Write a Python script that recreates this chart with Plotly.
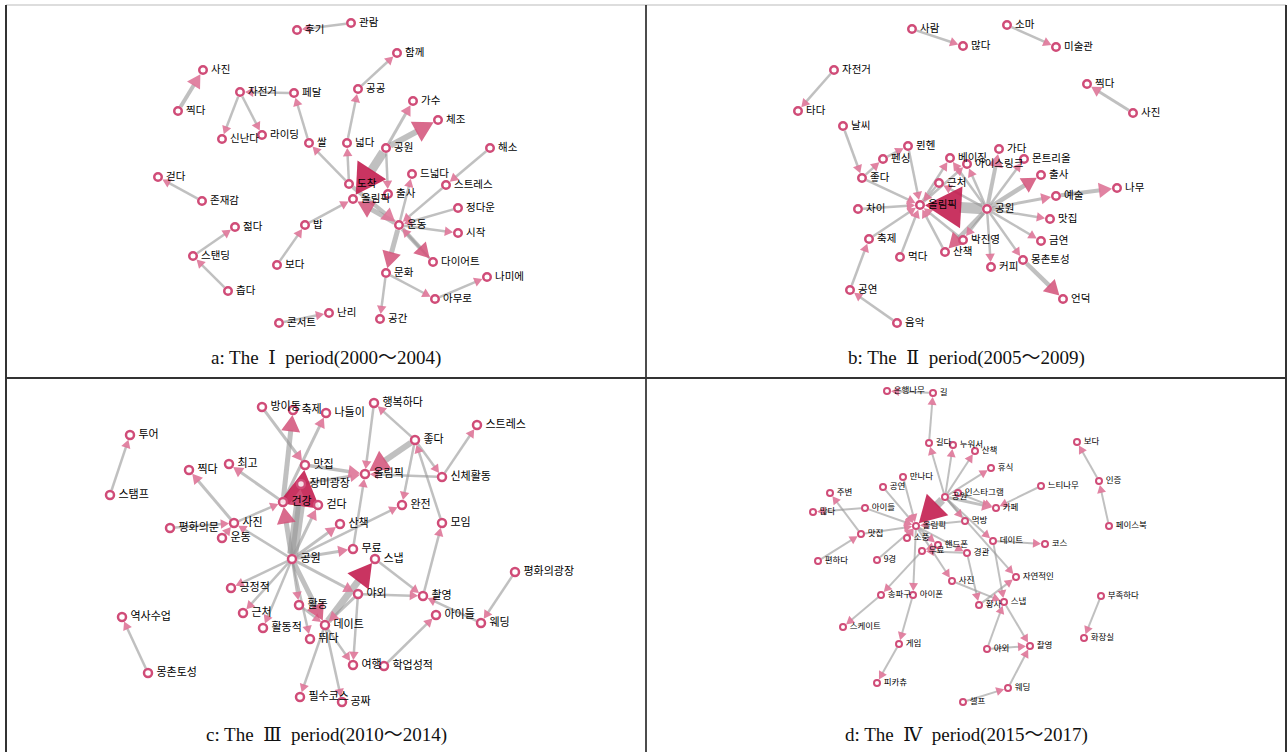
import math
import plotly.graph_objects as go

# ---------------- Panel a : 2000~2004 ----------------
A_NAMES = ["관람","후기","함께","사진","자전거","페달","공공","가수","체조","찍다","신난다","라이딩","쌀","넓다",
           "공원","해소","걷다","도착","드넓다","스트레스","출사","올림픽","존재감","정다운","운동","시작","젊다","밥",
           "스탠딩","다이어트","보다","문화","나미에","춥다","아무로","난리","콘서트","공간"]
A_X = [351,297,397,203,240,294,358,413,438,178,222,262,309,347,386,490,158,349,412,446,388,353,202,458,399,458,235,305,
       193,433,277,386,487,228,435,329,279,380]
A_Y = [23,30,53,70,92,93,89,101,120,111,139,135,143,143,148,148,177,184,174,185,194,199,201,208,225,233,227,225,
       256,262,265,273,277,291,299,313,323,319]
A_EDGES = [("관람","후기",2.5),("공공","함께",2.5),("찍다","사진",4),("페달","자전거",2.5),("자전거","신난다",2.5),
           ("자전거","라이딩",2.5),("쌀","페달",2.5),("넓다","공공",2.5),("공원","가수",3),("공원","체조",6),
           ("공원","올림픽",9),("공원","출사",2.5),("해소","스트레스",2.5),("스트레스","운동",2.5),("존재감","걷다",2.5),
           ("운동","올림픽",5),("도착","운동",4),("운동","다이어트",4.5),("다이어트","운동",2.5),("운동","문화",5),
           ("문화","공간",2.5),("문화","아무로",2.5),("아무로","나미에",2.5),("운동","드넓다",2.5),("정다운","운동",2.5),
           ("운동","시작",2.5),("도착","쌀",2.5),("도착","넓다",2.5),("보다","밥",2.5),("밥","올림픽",2.5),
           ("스탠딩","젊다",2.5),("춥다","스탠딩",2.5),("콘서트","난리",2.5)]

# ---------------- Panel b : 2005~2009 ----------------
B_NAMES = ["사람","소마","많다","미술관","자전거","찍다","타다","사진","날씨","뮌헨","펜싱","베이징","아이스링크","가다",
           "몬트리올","좋다","근처","출사","나무","예술","차이","올림픽","공원","맛집","축제","박진영","금연","산책",
           "먹다","몽촌토성","커피","공연","언덕","음악"]
B_X = [912,1007,963,1056,834,1087,798,1133,843,908,883,950,967,999,1024,862,939,1041,1117,1056,858,920,987,1050,869,963,
       1041,945,900,1023,991,850,1063,897]
B_Y = [29,25,46,47,70,84,111,113,126,146,159,158,164,149,159,178,183,175,188,196,209,205,209,219,239,240,241,252,257,
       260,267,290,299,323]
B_EDGES = [("사람","많다",2.5),("소마","미술관",2.5),("자전거","타다",2.5),("사진","찍다",3),("날씨","좋다",2.5),
           ("음악","공연",2.5),("공연","축제",2.5),("공원","올림픽",11),("좋다","펜싱",2.5),("펜싱","뮌헨",2.5),
           ("좋다","올림픽",2.5),("뮌헨","올림픽",2.5),("차이","올림픽",2.5),("축제","올림픽",2.5),("먹다","올림픽",2.5),
           ("올림픽","베이징",2.5),("올림픽","아이스링크",2.5),("근처","올림픽",2.5),("산책","올림픽",2.5),
           ("박진영","올림픽",2.5),("공원","산책",4.5),("공원","가다",4),("공원","몬트리올",2.5),("공원","출사",4.5),
           ("공원","예술",3),("예술","나무",4),("공원","맛집",2.5),("공원","금연",2.5),("공원","몽촌토성",2.5),
           ("몽촌토성","언덕",4.5),("공원","커피",2.5),("공원","박진영",2.5),("공원","아이스링크",2.5),
           ("공원","베이징",2.5),("공원","근처",2.5)]

# ---------------- Panel c : 2010~2014 ----------------
C_NAMES = ["방이동","축제","나들이","투어","최고","맛집","찍다","장미광장","스탬프","건강","걷다","사진","평화의문","운동",
           "공원","긍정적","활동","역사수업","근처","데이트","활동적","뛰다","몽촌토성","필수코스","행복하다","스트레스",
           "좋다","올림픽","신체활동","완전","산책","모임","무료","스냅","평화의광장","야외","촬영","아이들","웨딩",
           "여행","학업성적","공짜"]
C_X = [262,293,326,130,229,305,189,301,110,283,318,234,170,222,292,231,299,122,243,325,263,310,148,300,374,477,415,365,
       442,402,340,442,353,375,515,358,423,436,481,353,384,342]
C_Y = [407,410,413,435,464,465,470,484,495,502,505,523,528,538,559,588,605,617,613,625,628,639,673,697,403,425,440,474,
       477,505,524,523,549,559,572,594,596,615,623,665,666,702]
C_EDGES = [("스탬프","투어",2.5),("몽촌토성","역사수업",2.5),("공원","맛집",11),("공원","장미광장",5),("공원","건강",5),
           ("공원","걷다",3),("건강","축제",5),("방이동","맛집",3),("건강","나들이",3),("건강","최고",3),
           ("사진","찍다",3),("평화의문","사진",2.5),("운동","사진",2.5),("공원","사진",2.5),("사진","건강",2.5),
           ("공원","긍정적",2.5),("공원","근처",2.5),("공원","활동적",2.5),("공원","뛰다",2.5),("공원","활동",2.5),
           ("공원","데이트",5),("공원","산책",3),("공원","무료",3),("공원","완전",2.5),("공원","야외",3),
           ("맛집","올림픽",3.5),("장미광장","올림픽",3),("좋다","올림픽",6),("신체활동","올림픽",2.5),
           ("행복하다","올림픽",2.5),("좋다","행복하다",2.5),("좋다","신체활동",2.5),("신체활동","스트레스",2.5),
           ("좋다","완전",2.5),("모임","좋다",2.5),("촬영","모임",2.5),("무료","올림픽",2.5),("데이트","스냅",7),
           ("스냅","촬영",2.5),("야외","촬영",2.5),("웨딩","촬영",2.5),("평화의광장","웨딩",2.5),
           ("학업성적","아이들",2.5),("야외","여행",2.5),("데이트","여행",2.5),("데이트","필수코스",2.5),
           ("데이트","공짜",2.5),("야외","데이트",3),("활동","데이트",2.5)]

# ---------------- Panel d : 2015~2017 ----------------
D_NAMES = ["은행나무","길","길다","누워서","산책","휴식","만나다","공연","느티나무","주변","인스타그램","공원","카페",
           "아이들","많다","먹방","올림픽","맛집","소풍","핸드폰","데이트","코스","무료","경관","9경","편하다",
           "자연적인","사진","송파구","아이폰","스냅","황사","스케이트","게임","야외","촬영","피카츄","웨딩","셀프",
           "보다","인증","페이스북","부족하다","화장실"]
D_X = [887,933,929,953,975,991,903,883,1041,830,958,945,996,865,813,965,916,861,907,938,993,1045,922,967,877,818,
       1016,952,881,913,1004,979,843,899,987,1030,877,1008,963,1077,1099,1109,1101,1084]
D_Y = [391,393,443,445,451,468,477,487,486,493,493,497,508,508,512,521,526,534,538,545,541,544,551,553,560,561,
       577,581,595,595,602,605,627,644,649,646,683,688,702,442,481,526,596,638]
D_EDGES = [("길","은행나무",2),("길다","길",2),("공원","길다",2),("공원","누워서",2),("공원","산책",2),("공원","휴식",2),
           ("공원","올림픽",8),("공원","카페",3),("느티나무","카페",2),("공원","데이트",2),("데이트","코스",2),
           ("공원","자연적인",2),("페이스북","인증",2),("인증","보다",2),("부족하다","화장실",2),("셀프","웨딩",2),
           ("웨딩","촬영",2),("야외","촬영",2),("스냅","촬영",2),("야외","스냅",2),("황사","자연적인",2),
           ("경관","황사",2),("데이트","스냅",2),("아이들","많다",2),("아이들","올림픽",2),("맛집","주변",2),
           ("편하다","맛집",2),("맛집","올림픽",2),("공연","올림픽",2),("만나다","올림픽",2),("9경","올림픽",2),
           ("소풍","올림픽",2),("먹방","올림픽",2),("올림픽","아이폰",2),("무료","송파구",2),("송파구","스케이트",2),
           ("아이폰","게임",2),("게임","피카츄",2),("핸드폰","무료",2),("경관","무료",2),("올림픽","핸드폰",2),
           ("올림픽","경관",2),("올림픽","사진",2),("사진","스냅",2),("인스타그램","카페",2),("공원","먹방",2)]

SP = "\u00a0"
CAPTIONS = ["a: The" + SP * 2 + "Ⅰ" + SP * 2 + "period(2000～2004)",
            "b: The" + SP * 2 + "Ⅱ" + SP * 2 + "period(2005～2009)",
            "c: The" + SP * 2 + "Ⅲ" + SP * 2 + "period(2010～2014)",
            "d: The" + SP * 2 + "Ⅳ" + SP * 2 + "period(2015～2017)"]

W, H = 1288, 752
fig = go.Figure()

EDGE_COLOR = "rgba(150,150,150,0.6)"
NODE_LINE = "#d04c78"


def head_color(w):
    if w >= 7:
        return "rgba(195,30,80,0.9)"
    if w >= 4.5:
        return "rgba(210,80,120,0.85)"
    return "rgba(222,118,152,0.9)"


def draw_panel(names, xs, ys, edges, node_r, marker_size, line_w, font_size):
    pos = {n: (x, y) for n, x, y in zip(names, xs, ys)}
    line_groups = {}
    head_groups = {}
    for s, t, w in edges:
        x1, y1 = pos[s]
        x2, y2 = pos[t]
        dx, dy = x2 - x1, y2 - y1
        L = math.hypot(dx, dy)
        ux, uy = dx / L, dy / L
        nx, ny = -uy, ux
        tipx, tipy = x2 - ux * node_r, y2 - uy * node_r
        hl = min(max(8.0, 3.3 * w), (L - 2 * node_r) * 0.9)
        hw = max(4.5, 1.9 * w)
        bx, by = tipx - ux * hl, tipy - uy * hl
        sx, sy = x1 + ux * node_r, y1 + uy * node_r
        lg = line_groups.setdefault(w, ([], []))
        lg[0].extend([sx, bx + ux * 1.5, None])
        lg[1].extend([sy, by + uy * 1.5, None])
        c = head_color(w)
        hg = head_groups.setdefault(c, ([], []))
        hg[0].extend([tipx, bx + nx * hw, bx - nx * hw, tipx, None])
        hg[1].extend([tipy, by + ny * hw, by - ny * hw, tipy, None])
    for w, (lx, ly) in sorted(line_groups.items()):
        fig.add_trace(go.Scatter(x=lx, y=ly, mode="lines", line=dict(color=EDGE_COLOR, width=w),
                                 hoverinfo="skip", showlegend=False))
    for c, (hx, hy) in head_groups.items():
        fig.add_trace(go.Scatter(x=hx, y=hy, mode="lines", fill="toself", fillcolor=c,
                                 line=dict(width=0, color=c), hoverinfo="skip", showlegend=False))
    fig.add_trace(go.Scatter(x=xs, y=ys, mode="markers+text", text=[SP + n for n in names],
                             textposition="middle right",
                             textfont=dict(family="Noto Sans CJK KR, Noto Sans", size=font_size, color="#000"),
                             marker=dict(size=marker_size, color="rgba(255,255,255,0.85)",
                                         line=dict(color=NODE_LINE, width=line_w)),
                             hoverinfo="text", showlegend=False))


draw_panel(A_NAMES, A_X, A_Y, A_EDGES, 5, 7.5, 2.5, 10.5)
draw_panel(B_NAMES, B_X, B_Y, B_EDGES, 5, 7.5, 2.5, 10.5)
draw_panel(C_NAMES, C_X, C_Y, C_EDGES, 5, 8, 2.5, 11)
draw_panel(D_NAMES, D_X, D_Y, D_EDGES, 4, 6, 2, 8.5)

cap_pos = [(326, 358), (966, 358), (326, 735), (966, 735)]
for txt, (cx, cy) in zip(CAPTIONS, cap_pos):
    fig.add_annotation(x=cx, y=cy, text=txt, showarrow=False, xref="x", yref="y",
                       font=dict(family="Liberation Serif, DejaVu Serif, Noto Sans CJK KR", size=19, color="#111"))

shapes = [
    dict(type="line", x0=6, x1=1286, y0=5, y1=5, line=dict(color="#bbbbbb", width=1)),
    dict(type="line", x0=6, x1=6, y0=5, y1=752, line=dict(color="#333333", width=2)),
    dict(type="line", x0=1286, x1=1286, y0=5, y1=752, line=dict(color="#333333", width=2)),
    dict(type="line", x0=646, x1=646, y0=5, y1=752, line=dict(color="#111111", width=1.5)),
    dict(type="line", x0=6, x1=1286, y0=378, y1=378, line=dict(color="#333333", width=2)),
]
for s in shapes:
    s.update(xref="x", yref="y", layer="below")
    fig.add_shape(**s)

fig.update_layout(width=W, height=H, margin=dict(l=0, r=0, t=0, b=0),
                  paper_bgcolor="white", plot_bgcolor="white", showlegend=False,
                  xaxis=dict(range=[0, W], visible=False, fixedrange=True),
                  yaxis=dict(range=[H, 0], visible=False, fixedrange=True))
fig.write_html("out.html", config={"displayModeBar": False},
               post_script="document.body.style.margin='0';document.body.style.overflow='hidden';")
